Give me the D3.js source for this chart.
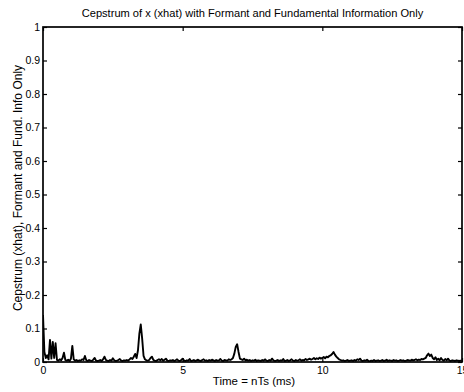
<!DOCTYPE html>
<html>
<head>
<meta charset="utf-8">
<script src="https://cdn.jsdelivr.net/npm/d3@7/dist/d3.min.js"></script>
<style>
  html, body { margin: 0; padding: 0; background: #fff; }
  svg { display: block; }
  text { font-family: "Liberation Sans", Arial, Helvetica, sans-serif; fill: #000; }
</style>
</head>
<body>
<svg id="chart" width="464" height="392"></svg>
<script>
// Quefrency axis sampling (ms per sample)
const step = 0.05;

// Liftered cepstrum magnitude, one row per millisecond (20 samples each)
const cepstrum = [
  // 0 - 1 ms : formant region
  0.14, 0.03, 0.012, 0.02, 0.008, 0.066, 0.01, 0.06, 0.012, 0.056, 0.006, 0.004, 0.008, 0.005, 0.012, 0.028, 0.006, 0.004, 0.007, 0.003,
  // 1 - 2 ms
  0.01, 0.048, 0.008, 0.004, 0.006, 0.003, 0.005, 0.004, 0.008, 0.006, 0.018, 0.005, 0.003, 0.006, 0.004, 0.003, 0.007, 0.012, 0.004, 0.003,
  // 2 - 3 ms
  0.004, 0.006, 0.003, 0.008, 0.016, 0.006, 0.004, 0.003, 0.006, 0.004, 0.011, 0.005, 0.003, 0.004, 0.006, 0.009, 0.004, 0.003, 0.005, 0.004,
  // 3 - 4 ms : pitch peak
  0.006, 0.004, 0.008, 0.012, 0.009, 0.016, 0.024, 0.012, 0.035, 0.085, 0.112, 0.07, 0.018, 0.008, 0.005, 0.004, 0.006, 0.012, 0.016, 0.006,
  // 4 - 5 ms
  0.004, 0.003, 0.006, 0.008, 0.005, 0.009, 0.004, 0.007, 0.01, 0.004, 0.003, 0.005, 0.004, 0.006, 0.003, 0.005, 0.008, 0.004, 0.003, 0.006,
  // 5 - 6 ms
  0.01, 0.004, 0.003, 0.005, 0.004, 0.009, 0.003, 0.004, 0.006, 0.003, 0.005, 0.007, 0.004, 0.003, 0.006, 0.008, 0.004, 0.005, 0.003, 0.006,
  // 6 - 7 ms : second pitch harmonic
  0.004, 0.007, 0.005, 0.003, 0.006, 0.004, 0.005, 0.009, 0.004, 0.003, 0.006, 0.005, 0.004, 0.008, 0.006, 0.008, 0.012, 0.025, 0.045, 0.053,
  // 7 - 8 ms
  0.03, 0.01, 0.008, 0.006, 0.01, 0.005, 0.007, 0.004, 0.006, 0.003, 0.005, 0.004, 0.007, 0.003, 0.005, 0.004, 0.003, 0.006, 0.004, 0.008,
  // 8 - 9 ms
  0.004, 0.003, 0.006, 0.004, 0.01, 0.005, 0.003, 0.004, 0.006, 0.003, 0.005, 0.004, 0.009, 0.003, 0.004, 0.006, 0.003, 0.005, 0.008, 0.004,
  // 9 - 10 ms
  0.003, 0.006, 0.004, 0.005, 0.008, 0.004, 0.006, 0.005, 0.009, 0.006, 0.008, 0.01, 0.007, 0.009, 0.012, 0.008, 0.011, 0.009, 0.013, 0.01,
  // 10 - 11 ms : third harmonic
  0.012, 0.015, 0.011, 0.016, 0.014, 0.018, 0.02, 0.024, 0.03, 0.022, 0.016, 0.012, 0.008, 0.006, 0.004, 0.005, 0.003, 0.004, 0.006, 0.003,
  // 11 - 12 ms
  0.004, 0.005, 0.003, 0.006, 0.004, 0.008, 0.006, 0.01, 0.004, 0.003, 0.005, 0.004, 0.007, 0.003, 0.002, 0.004, 0.003, 0.006, 0.003, 0.004,
  // 12 - 13 ms
  0.005, 0.003, 0.004, 0.006, 0.003, 0.004, 0.007, 0.003, 0.005, 0.004, 0.003, 0.006, 0.004, 0.005, 0.003, 0.004, 0.006, 0.004, 0.005, 0.003,
  // 13 - 14 ms : fourth harmonic
  0.004, 0.006, 0.005, 0.004, 0.007, 0.005, 0.006, 0.008, 0.005, 0.007, 0.006, 0.009, 0.008, 0.01, 0.012, 0.02, 0.025, 0.018, 0.022, 0.012,
  // 14 - 15 ms
  0.008, 0.014, 0.006, 0.01, 0.005, 0.012, 0.006, 0.004, 0.009, 0.005, 0.01, 0.004, 0.003, 0.005, 0.004, 0.003, 0.005, 0.004, 0.003, 0.004,
  0.004
];

const xTicks = [0, 5, 10, 15];
const xTickLabels = ["0", "5", "10", "15"];
const yTicks = [0, 0.1, 0.2, 0.3, 0.4, 0.5, 0.6, 0.7, 0.8, 0.9, 1];
const yTickLabels = ["0", "0.1", "0.2", "0.3", "0.4", "0.5", "0.6", "0.7", "0.8", "0.9", "1"];

const titleText = "Cepstrum of x (xhat) with Formant and Fundamental Information Only";
const xLabelText = "Time = nTs (ms)";
const yLabelText = "Cepstrum (xhat), Formant and Fund. Info Only";

const margin = { left: 43, right: 2, top: 27, bottom: 30 };
const W = 464, H = 392;
const svg = d3.select("#chart");

const x = d3.scaleLinear().domain([0, 15]).range([margin.left, W - margin.right]);
const y = d3.scaleLinear().domain([0, 1]).range([H - margin.bottom, margin.top]);

const series = cepstrum.map((v, i) => [i * step, v]);

// clip so the trace stays inside the frame
svg.append("clipPath").attr("id", "plotclip")
  .append("rect")
  .attr("x", x(0)).attr("y", y(1))
  .attr("width", x(15) - x(0)).attr("height", y(0) - y(1));

svg.append("path")
  .datum(series)
  .attr("clip-path", "url(#plotclip)")
  .attr("fill", "none")
  .attr("stroke", "#000")
  .attr("stroke-width", 1.9)
  .attr("stroke-linejoin", "round")
  .attr("d", d3.line().x(d => x(d[0])).y(d => y(d[1])));

const tickLen = 4;
const fmtX = (d, i) => xTickLabels[i];
const fmtY = (d, i) => yTickLabels[i];

// bottom axis: labels outside, ticks inside
const gx = svg.append("g").attr("transform", `translate(0,${y(0)})`)
  .call(d3.axisBottom(x).tickValues(xTicks).tickFormat(fmtX).tickSizeInner(-tickLen).tickSizeOuter(0).tickPadding(5));
// top axis: ticks only
const gxt = svg.append("g").attr("transform", `translate(0,${y(1)})`)
  .call(d3.axisTop(x).tickValues(xTicks).tickFormat("").tickSizeInner(-tickLen).tickSizeOuter(0));
// left axis
const gy = svg.append("g").attr("transform", `translate(${x(0)},0)`)
  .call(d3.axisLeft(y).tickValues(yTicks).tickFormat(fmtY).tickSizeInner(-tickLen).tickSizeOuter(0).tickPadding(3));
// right axis: ticks only
const gyr = svg.append("g").attr("transform", `translate(${x(15)},0)`)
  .call(d3.axisRight(y).tickValues(yTicks).tickFormat("").tickSizeInner(-tickLen).tickSizeOuter(0));

[gx, gxt, gy, gyr].forEach(g => {
  g.select(".domain").remove();
  g.selectAll(".tick line").attr("stroke", "#000").attr("stroke-width", 1.2);
  g.selectAll(".tick text").attr("font-size", 10.5).attr("fill", "#000")
    .style("font-family", '"Liberation Sans", Arial, sans-serif');
});

// frame
svg.append("rect")
  .attr("x", x(0)).attr("y", y(1))
  .attr("width", x(15) - x(0)).attr("height", y(0) - y(1))
  .attr("fill", "none").attr("stroke", "#000").attr("stroke-width", 1.7);

svg.append("text")
  .attr("x", (x(0) + x(15)) / 2).attr("y", 17)
  .attr("text-anchor", "middle").attr("font-size", 11.1)
  .text(titleText);

svg.append("text")
  .attr("x", 254).attr("y", 385)
  .attr("text-anchor", "middle").attr("font-size", 11.5)
  .text(xLabelText);

svg.append("text")
  .attr("transform", `translate(22,188) rotate(-90)`)
  .attr("text-anchor", "middle").attr("font-size", 12)
  .text(yLabelText);
</script>
</body>
</html>
